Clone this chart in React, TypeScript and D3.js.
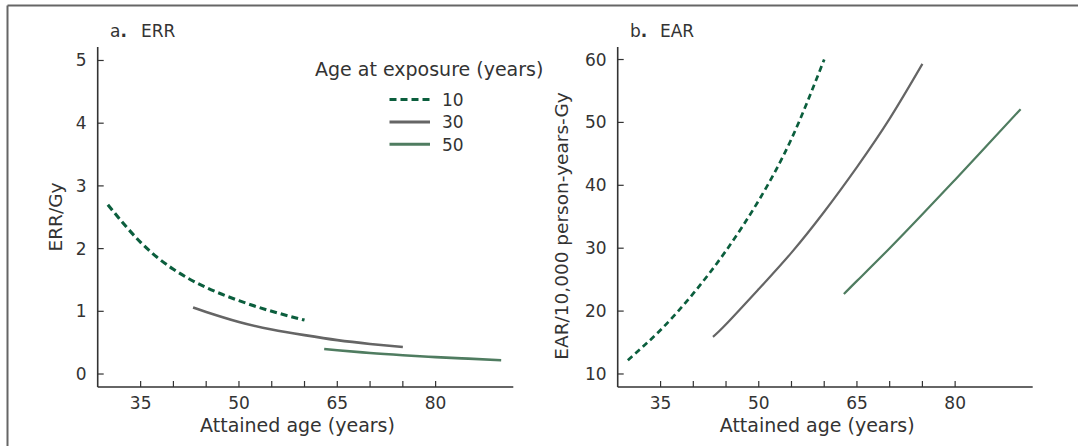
import React from "react";
import * as d3 from "d3";

// ---- data ----
const ages10 = [30, 35, 40, 45, 50, 55, 60];
const ages30 = [43, 45, 50, 55, 60, 65, 70, 75];
const ages50 = [63, 65, 70, 75, 80, 85, 90];

const err10 = [2.7, 2.1, 1.67, 1.38, 1.17, 1.0, 0.86];
const err30 = [1.06, 0.99, 0.83, 0.71, 0.62, 0.54, 0.48, 0.43];
const err50 = [0.4, 0.38, 0.335, 0.3, 0.27, 0.245, 0.22];

const ear10 = [12.2, 17.0, 22.8, 29.6, 37.6, 47.4, 60.0];
const ear30 = [15.9, 17.9, 23.5, 29.3, 35.8, 42.9, 50.6, 59.3];
const ear50 = [22.7, 24.8, 30.0, 35.4, 40.9, 46.5, 52.1];

const xTicks = [35, 40, 45, 50, 55, 60, 65, 70, 75, 80];
const xTickLabels = [35, 50, 65, 80];
const errTicks = [0, 1, 2, 3, 4, 5];
const earTicks = [10, 20, 30, 40, 50, 60];

const legendLabels = ["10", "30", "50"];
const legendTitle = "Age at exposure (years)";

const COL10 = "#0b5e3d";
const COL30 = "#656565";
const COL50 = "#4f7c60";
const FONT = "'DejaVu Sans', sans-serif";
const TXT = "#333";

type Series = { ages: number[]; vals: number[]; color: string; dashed: boolean };

function Panel(props: {
  x0: number;
  x1: number;
  yDomain: [number, number];
  ticks: number[];
  series: Series[];
  title: string;
  letter: string;
  letterX: number;
  titleX: number;
  yLabel: string;
  yLabelX: number;
  yLabelY: number;
  sw: number;
  dash: string;
}) {
  const yTop = 47;
  const yBot = 387;
  const x = d3.scaleLinear().domain([28.45, 91.85]).range([props.x0, props.x1]);
  const y = d3.scaleLinear().domain(props.yDomain).range([yBot, yTop]);
  const line = d3
    .line<[number, number]>()
    .x((d) => x(d[0]))
    .y((d) => y(d[1]))
    .curve(d3.curveNatural);
  return (
    <g>
      {props.series.map((s, i) => (
        <path
          key={i}
          d={line(s.ages.map((a, j) => [a, s.vals[j]] as [number, number])) || ""}
          fill="none"
          stroke={s.color}
          strokeWidth={s.dashed ? props.sw + 0.5 : props.sw}
          strokeDasharray={s.dashed ? props.dash : undefined}
        />
      ))}
      {/* axes */}
      <line x1={props.x0} x2={props.x0} y1={yTop} y2={yBot} stroke={TXT} strokeWidth={1.6} />
      <line x1={props.x0} x2={props.x1} y1={yBot} y2={yBot} stroke={TXT} strokeWidth={1.6} />
      {xTicks.map((t) => (
        <line key={t} x1={x(t)} x2={x(t)} y1={yBot} y2={yBot - 6} stroke={TXT} strokeWidth={1.2} />
      ))}
      {xTickLabels.map((t) => (
        <text key={t} x={x(t)} y={408.5} textAnchor="middle" fontSize={17} fill={TXT} fontFamily={FONT}>
          {t}
        </text>
      ))}
      {props.ticks.map((t) => (
        <g key={t}>
          <line x1={props.x0} x2={props.x0 + 6} y1={y(t)} y2={y(t)} stroke={TXT} strokeWidth={1.2} />
          <text x={props.x0 - 11} y={y(t) + 6} textAnchor="end" fontSize={17} fill={TXT} fontFamily={FONT}>
            {t}
          </text>
        </g>
      ))}
      <text
        x={(props.x0 + props.x1) / 2 - 8}
        y={432}
        textAnchor="middle"
        fontSize={19}
        fill={TXT}
        fontFamily={FONT}
      >
        Attained age (years)
      </text>
      <text
        transform={`translate(${props.yLabelX},${props.yLabelY}) rotate(-90)`}
        textAnchor="middle"
        fontSize={18.5}
        fill={TXT}
        fontFamily={FONT}
      >
        {props.yLabel}
      </text>
      <text x={props.letterX} y={37} fontSize={17} fill={TXT} fontFamily={FONT}>
        {props.letter}
        <tspan fontWeight="bold">.</tspan>
      </text>
      <text x={props.titleX} y={37} fontSize={17} fill={TXT} fontFamily={FONT}>
        {props.title}
      </text>
    </g>
  );
}

export default function App() {
  const errSeries: Series[] = [
    { ages: ages10, vals: err10, color: COL10, dashed: true },
    { ages: ages30, vals: err30, color: COL30, dashed: false },
    { ages: ages50, vals: err50, color: COL50, dashed: false },
  ];
  const earSeries: Series[] = [
    { ages: ages10, vals: ear10, color: COL10, dashed: true },
    { ages: ages30, vals: ear30, color: COL30, dashed: false },
    { ages: ages50, vals: ear50, color: COL50, dashed: false },
  ];
  const legendColors = [COL10, COL30, COL50];
  return (
    <svg
      width={1078}
      height={446}
      style={{ position: "absolute", left: 0, top: 0, background: "#fff" }}
    >
      <rect x={0} y={0} width={1078} height={446} fill="#fff" />
      {/* partial frame */}
      <line x1={7.5} x2={1078} y1={5.5} y2={5.5} stroke="#666" strokeWidth={2} />
      <line x1={7.5} x2={7.5} y1={5.5} y2={446} stroke="#666" strokeWidth={2} />
      <Panel
        x0={97.7}
        x1={513.3}
        yDomain={[-0.207, 5.215]}
        ticks={errTicks}
        series={errSeries}
        letter="a"
        letterX={110}
        title="ERR"
        titleX={141}
        yLabel="ERR/Gy"
        yLabelX={62}
        yLabelY={217}
        sw={2.6}
        dash="7,4"
      />
      <Panel
        x0={617.7}
        x1={1032.7}
        yDomain={[7.93, 61.99]}
        ticks={earTicks}
        series={earSeries}
        letter="b"
        letterX={630}
        title="EAR"
        titleX={660}
        yLabel="EAR/10,000 person-years-Gy"
        yLabelX={568}
        yLabelY={226}
        sw={2.2}
        dash="6,4"
      />
      {/* legend */}
      <text x={315} y={76} fontSize={19} fill={TXT} fontFamily={FONT}>
        {legendTitle}
      </text>
      {legendLabels.map((l, i) => (
        <g key={l}>
          <line
            x1={389.5}
            x2={430}
            y1={99.5 + i * 22.4}
            y2={99.5 + i * 22.4}
            stroke={legendColors[i]}
            strokeWidth={3}
            strokeDasharray={i === 0 ? "7,4" : undefined}
          />
          <text x={442} y={106 + i * 22.4} fontSize={17} fill={TXT} fontFamily={FONT}>
            {l}
          </text>
        </g>
      ))}
    </svg>
  );
}
